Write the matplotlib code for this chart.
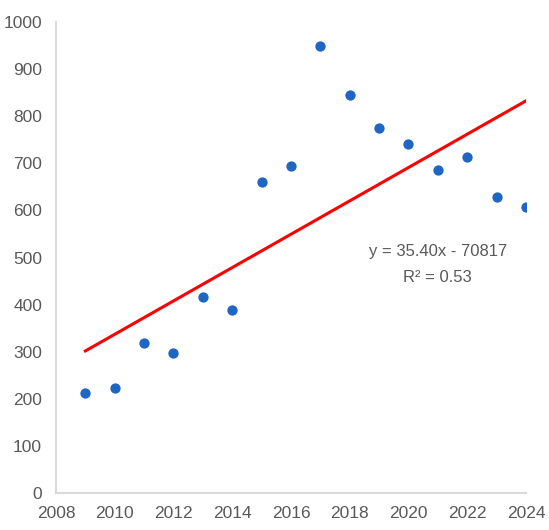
import numpy as np
import matplotlib
matplotlib.use("Agg")
import matplotlib.pyplot as plt
from matplotlib import font_manager

# data
years = [2009, 2010, 2011, 2012, 2013, 2014, 2015, 2016,
         2017, 2018, 2019, 2020, 2021, 2022, 2023, 2024]
values = [212, 223, 318, 297, 417, 389, 661, 694,
          948, 845, 774, 742, 686, 714, 628, 607]

# trendline as printed on the chart
slope = 35.40
intercept = -70817
r_squared = 0.53

xticks = [2008, 2010, 2012, 2014, 2016, 2018, 2020, 2022, 2024]
yticks = [0, 100, 200, 300, 400, 500, 600, 700, 800, 900, 1000]

names = {f.name for f in font_manager.fontManager.ttflist}
family = "Liberation Sans Narrow" if "Liberation Sans Narrow" in names else "Liberation Sans"
plt.rcParams["font.family"] = [family, "DejaVu Sans"]

text_color = "#595959"
axis_color = "#d9d9d9"

fig = plt.figure(figsize=(5.49, 5.30), dpi=100)
ax = fig.add_axes([0.102, 0.0698, 0.856, 0.8887])

ax.scatter(years, values, s=55, color="#1f66c4", zorder=3, linewidths=0)

trend_x = np.array([years[0], years[-1]])
trend_y = slope * trend_x + intercept
ax.plot(trend_x, trend_y, color="#ff0000", linewidth=2.2, zorder=2)

ax.text(2021.0, 512, f"y = {slope:.2f}x - {abs(intercept)}", ha="center", va="center",
        fontsize=12, color=text_color)
ax.text(2021.0, 458, f"R² = {r_squared:.2f}", ha="center", va="center",
        fontsize=12, color=text_color)

ax.set_xlim(2008, 2024)
ax.set_ylim(0, 1000)
ax.set_xticks(xticks)
ax.set_yticks(yticks)
ax.tick_params(axis="both", length=0, labelsize=12.5, labelcolor=text_color)
ax.tick_params(axis="y", pad=10)
ax.tick_params(axis="x", pad=9)

for side in ["top", "right"]:
    ax.spines[side].set_visible(False)
for side in ["left", "bottom"]:
    ax.spines[side].set_color(axis_color)
    ax.spines[side].set_linewidth(1.5)

fig.savefig("out.png", dpi=100)
